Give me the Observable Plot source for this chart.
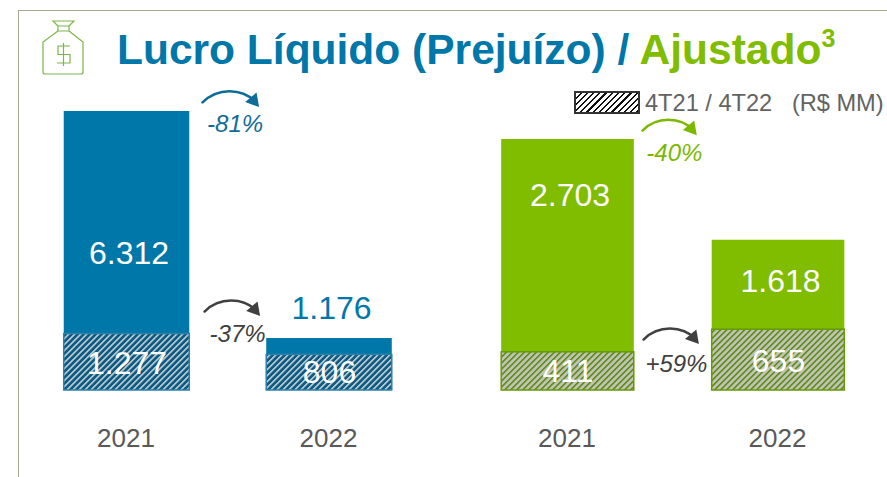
<!DOCTYPE html>
<html><head><meta charset="utf-8">
<script src="https://cdn.jsdelivr.net/npm/d3@7"></script>
<script src="https://cdn.jsdelivr.net/npm/@observablehq/plot@0.6"></script>
<style>
html,body{margin:0;padding:0;background:#fff;overflow:hidden}
body{width:887px;height:477px;position:relative;font-family:"Liberation Sans",Arial,sans-serif}
#frame{position:absolute;left:18px;top:10px;width:869px;height:467px;border-left:1.5px solid #a8a791;border-top:1.5px solid #a8a791;box-sizing:border-box}
#title{position:absolute;left:117px;top:20px;font-size:42.5px;font-weight:bold;color:#0077a9;white-space:nowrap;line-height:60px}
#title .g{color:#80bc00}
#title sup{font-size:25px;line-height:0;vertical-align:17px}
#swatch{position:absolute;left:574px;top:91px;width:66px;height:23px;box-sizing:border-box;border:2px solid #333;background:repeating-linear-gradient(-45deg,#111 0 1.6px,#fff 1.6px 4.4px)}
#legend{position:absolute;left:645px;top:89px;font-size:23.6px;line-height:28px;color:#636363;white-space:pre}
#icon{position:absolute;left:40px;top:18px}
.p{position:absolute;left:0;top:0}
.p svg{background:transparent;overflow:visible}
</style></head><body>
<div id="frame"></div>
<svg id="icon" width="46" height="60" viewBox="0 0 46 60" fill="none" stroke="#7ab648" stroke-width="1.2">
<path d="M13 3H34L29 8V13H18V8Z M18 8H29 M18 13L3 24V54Q3 56 5 56H41Q43 56 43 54V24L29 13"/>
<path d="M30 28H18V36.5H30V45H17 M23.5 25V48"/>
</svg>
<div id="title">Lucro Líquido (Prejuízo) / <span class="g">Ajustado<sup>3</sup></span></div>
<div id="swatch"></div>
<div id="legend">4T21 / 4T22   (R$ MM)</div>
<div id="left" class="p"></div>
<div id="right" class="p"></div>
<script>
const years = ["2021", "2022"];
const lucro = [6312, 1176];
const lucro4T = [1277, 806];
const ajustado = [2703, 1618];
const ajustado4T = [411, 655];
// where each value label sits, in data units
const lucroLabelAt = [3090, 1860];
const lucro4TLabelAt = [610, 400];
const ajustadoLabelAt = [2095, 1175];
const ajustado4TLabelAt = [205, 305];
const lucroArrows = [
  {from: 0.373, to: 0.64, at: 6516, text: "-81%", textX: 0.534, textAt: 6030, color: "#0e6c96", textColor: "#0e6c96"},
  {from: 0.383, to: 0.645, at: 1787, text: "-37%", textX: 0.546, textAt: 1270, color: "#404040", textColor: "#404040"}
];
const ajustadoArrows = [
  {from: 0.354, to: 0.6, at: 2799, text: "-40%", textX: 0.505, textAt: 2550, color: "#7cb800", textColor: "#7cb800"},
  {from: 0.359, to: 0.61, at: 549, text: "+59%", textX: 0.515, textAt: 280, color: "#404040", textColor: "#404040"}
];
const fmt = v => v.toLocaleString("pt-BR");

function defs(id, bg, fg) {
  return () => {
    const s = d3.create("svg:defs");
    const p = s.append("pattern").attr("id", id).attr("patternUnits", "userSpaceOnUse")
      .attr("width", 4.24).attr("height", 4.24).attr("patternTransform", "rotate(45)");
    p.append("rect").attr("width", 4.24).attr("height", 4.24).attr("fill", bg);
    p.append("rect").attr("width", 1.6).attr("height", 4.24).attr("fill", fg);
    return s.node();
  };
}

function panel({vals, sub, labelAt, subLabelAt, arrows, color, topLabelInside, id, bg, fg, edge, xRange, yMax, yTop, halfWidth}) {
  const rows = years.map((y, i) => ({i, y, v: vals[i], s: sub[i], la: labelAt[i], sa: subLabelAt[i]}));
  return Plot.plot({
    width: 887, height: 477,
    marginLeft: 0, marginRight: 0, marginTop: 0, marginBottom: 0,
    style: {background: "transparent", fontFamily: "Liberation Sans, Arial, sans-serif"},
    x: {domain: [0, 1], range: xRange, axis: null},
    y: {domain: [0, yMax], range: [390, yTop], axis: null},
    marks: [
      defs(id, bg, fg),
      Plot.rect(rows, {x1: d => d.i - halfWidth, x2: d => d.i + halfWidth, y1: 0, y2: "v", fill: color}),
      Plot.rect(rows, {x1: d => d.i - halfWidth, x2: d => d.i + halfWidth, y1: 0, y2: "s", fill: `url(#${id})`, stroke: edge, strokeWidth: 1.5}),
      Plot.text(rows, {x: "i", y: "la", text: d => fmt(d.v), dx: 2, fontSize: 32,
        fill: d => topLabelInside[d.i] ? "#fff" : color}),
      Plot.text(rows, {x: "i", y: "sa", text: d => fmt(d.s), fontSize: 32, fill: "#fff"}),
      Plot.text(rows, {x: "i", y: 0, text: "y", dy: 48, dx: -1, fontSize: 26, fill: "#595959"}),
      Plot.arrow(arrows, {x1: "from", x2: "to", y1: "at", y2: "at", bend: 45, headLength: 0, stroke: "color", strokeWidth: 2.5}),
      Plot.dot(arrows, {x: "to", y: "at", symbol: "triangle", r: 5.5, rotate: 140, fill: "color", dx: -3, dy: -2}),
      Plot.text(arrows, {x: "textX", y: "textAt", text: "text", fontSize: 24, fontStyle: "italic", fill: "textColor"})
    ]
  });
}

document.getElementById("left").append(panel({
  vals: lucro, sub: lucro4T, labelAt: lucroLabelAt, subLabelAt: lucro4TLabelAt, arrows: lucroArrows,
  color: "#0077a9", topLabelInside: [true, false], id: "hatchL", bg: "#0d5a82", fg: "#c4d0d6", edge: "#2d80a8",
  xRange: [126.5, 329], yMax: 6312, yTop: 111, halfWidth: 0.31
}));
document.getElementById("right").append(panel({
  vals: ajustado, sub: ajustado4T, labelAt: ajustadoLabelAt, subLabelAt: ajustado4TLabelAt, arrows: ajustadoArrows,
  color: "#80bc00", topLabelInside: [true, true], id: "hatchR", bg: "#c2c2c2", fg: "#5f8f0a", edge: "#649a06",
  xRange: [567.5, 778], yMax: 2703, yTop: 139, halfWidth: 0.315
}));
</script>
</body></html>
